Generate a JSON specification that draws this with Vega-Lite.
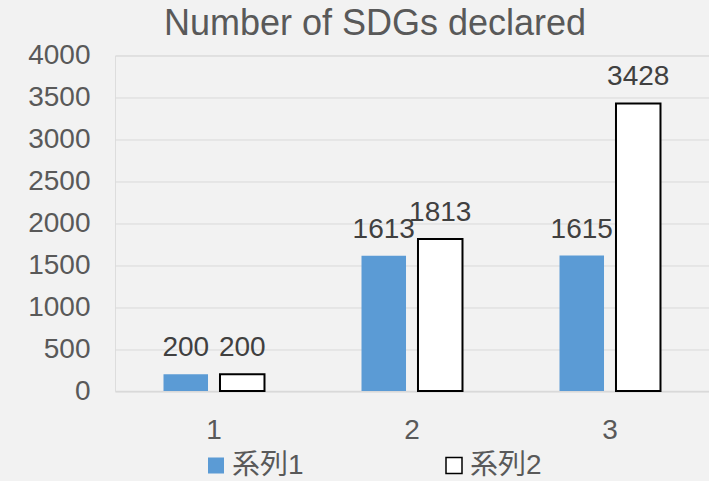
{
  "$schema": "https://vega.github.io/schema/vega-lite/v6.json",
  "autosize": "none",
  "width": 594,
  "height": 335.5,
  "padding": {"left": 115, "top": 55.5, "right": 0, "bottom": 90},
  "background": "#f2f2f2",
  "title": {
    "text": "Number of SDGs declared",
    "fontSize": 36,
    "font": "Liberation Sans",
    "fontWeight": "normal",
    "color": "#595959",
    "dx": -37,
    "offset": -29,
    "baseline": "alphabetic"
  },
  "data": {
    "values": [
      {"cat": "1", "series": "系列1", "value": 200},
      {"cat": "1", "series": "系列2", "value": 200},
      {"cat": "2", "series": "系列1", "value": 1613},
      {"cat": "2", "series": "系列2", "value": 1813},
      {"cat": "3", "series": "系列1", "value": 1615},
      {"cat": "3", "series": "系列2", "value": 3428}
    ]
  },
  "encoding": {
    "x": {
      "field": "cat",
      "type": "nominal",
      "scale": {"paddingInner": 0.49, "paddingOuter": 0.245},
      "axis": {
        "title": null,
        "labelAngle": 0,
        "labelFont": "Liberation Sans",
        "labelFontSize": 28,
        "labelColor": "#595959",
        "labelPadding": 25,
        "ticks": false,
        "domainColor": "#d9d9d9",
        "domainWidth": 1.5,
        "grid": false
      }
    },
    "xOffset": {
      "field": "series",
      "type": "nominal",
      "scale": {"paddingInner": 0.212, "paddingOuter": 0}
    },
    "y": {
      "field": "value",
      "type": "quantitative",
      "scale": {"domain": [0, 4000], "nice": false},
      "axis": {
        "title": null,
        "values": [0, 500, 1000, 1500, 2000, 2500, 3000, 3500, 4000],
        "format": "d",
        "labelFont": "Liberation Sans",
        "labelFontSize": 28,
        "labelColor": "#595959",
        "labelPadding": 25,
        "ticks": false,
        "domain": false,
        "gridColor": "#d9d9d9",
        "gridWidth": 1
      }
    }
  },
  "layer": [
    {
      "mark": {"type": "bar", "strokeWidth": 2},
      "encoding": {
        "fill": {
          "field": "series",
          "type": "nominal",
          "scale": {"range": ["#5b9bd5", "#ffffff"]},
          "legend": {
            "orient": "none",
            "legendX": 87,
            "legendY": 396,
            "direction": "horizontal",
            "title": null,
            "symbolType": "square",
            "symbolSize": 256,
            "symbolStrokeWidth": 1.5,
            "labelFontSize": 28,
            "labelFont": "Liberation Sans, Noto Sans CJK JP",
            "labelColor": "#595959",
            "labelOffset": 2,
            "columnPadding": 136,
            "padding": 0
          }
        },
        "stroke": {
          "field": "series",
          "type": "nominal",
          "scale": {"range": ["transparent", "#000000"]},
          "legend": {
            "orient": "none",
            "legendX": 87,
            "legendY": 396,
            "direction": "horizontal",
            "title": null,
            "symbolType": "square",
            "symbolSize": 256,
            "symbolStrokeWidth": 1.5,
            "labelFontSize": 28,
            "labelFont": "Liberation Sans, Noto Sans CJK JP",
            "labelColor": "#595959",
            "labelOffset": 2,
            "columnPadding": 136,
            "padding": 0
          }
        }
      }
    },
    {
      "mark": {
        "type": "text",
        "dy": -18,
        "baseline": "alphabetic",
        "fontSize": 28,
        "font": "Liberation Sans",
        "color": "#404040"
      },
      "encoding": {
        "text": {"field": "value", "type": "quantitative", "format": "d"}
      }
    }
  ]
}
